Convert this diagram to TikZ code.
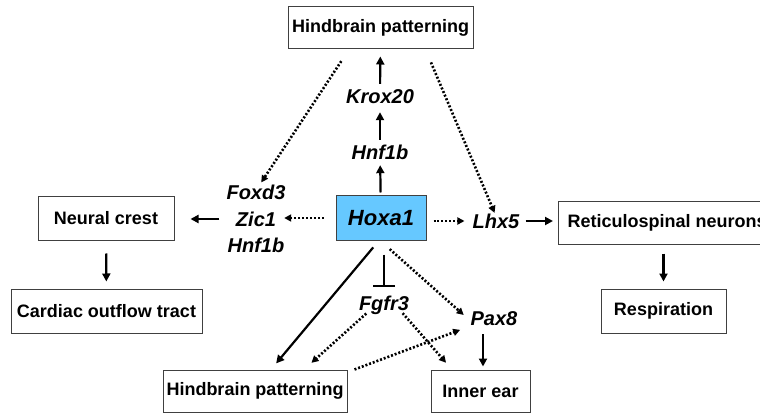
\documentclass[tikz,border=0pt]{standalone}
\usepackage{fontspec}
\setmainfont{Liberation Sans}
\usetikzlibrary{arrows.meta}
\definecolor{hoxblue}{RGB}{102,200,255}
\begin{document}
\begin{tikzpicture}[
       x=1pt,y=-1pt,
       box/.style={
         draw=black!75,
         line width=1pt,
         fill=white,
         font=\fontsize{18}{21}\selectfont\bfseries,
         inner sep=0pt
       },
       gene/.style={
         inner sep=0pt,
         text height=14pt,
         text depth=0pt,
         font=\fontsize{20}{24}\selectfont\bfseries\itshape
       },
       sol/.style={
         line width=2.2pt,
         -{Triangle[length=8pt,width=8pt]}
       },
       dot/.style={
         line width=2.6pt,
         dash pattern=on 2pt off 1.9pt,
         -{Triangle[length=7pt,width=7pt]}
       },
       blk/.style={
         line width=2.2pt,
         -{Bar[width=22pt,line width=2.2pt]}
       }
     ]

       \clip (0,0) rectangle (760,414);
       \fill[white] (0,0) rectangle (760,414);

       \node (hbtop) at (380.5,28) [box,minimum width=185,minimum height=42]{Hindbrain patterning};
       \node (krox) at (380,97) [gene]{Krox20};
       \node (hnfa) at (380,153) [gene]{Hnf1b};
       \node (hoxa) at (381,218) [box,fill=hoxblue,minimum width=90,minimum height=44,
                                  font=\fontsize{22}{26}\selectfont\bfseries\itshape]{Hoxa1};

       \node (foxd) at (256,193) [gene]{Foxd3};
       \node (zic) at (256,219) [gene]{Zic1};
       \node (hnfb) at (256,245) [gene]{Hnf1b};

       \node (crest) at (106,218.5) [box,minimum width=136,minimum height=43]{Neural crest};
       \node (cardiac) at (106.5,311) [box,minimum width=191,minimum height=44]{Cardiac outflow tract};

       \node (lhx) at (496,221) [gene]{Lhx5};
       \node (retic) at (558,223) [box,anchor=west,minimum height=42,inner xsep=9pt]{Reticulospinal neurons};
       \node (resp) at (663.5,311) [box,minimum width=125,minimum height=44]{Respiration};

       \node (fgf) at (384,303) [gene]{Fgfr3};
       \node (pax) at (494,318) [gene]{Pax8};
       \node (hbbot) at (255,391) [box,minimum width=184,minimum height=42]{Hindbrain patterning};
       \node (ear) at (480.5,391) [box,minimum width=99,minimum height=42]{Inner ear};

       % upward chain
       \draw[sol,shorten <=6pt,shorten >=7pt] (krox) -- (hbtop);
       \draw[sol,shorten <=6pt,shorten >=8pt] (hnfa) -- (krox);
       \draw[sol,shorten <=3pt,shorten >=5pt] (hoxa) -- (hnfa);

       % from the top box
       \draw[dot,shorten <=14pt,shorten >=4pt] ([xshift=-31.5pt]hbtop.south) -- ([xshift=3pt]foxd.north);
       \draw[dot,shorten <=14pt,shorten >=1pt] ([xshift=45pt]hbtop.south) -- ([xshift=-1pt]lhx.north);

       % left side
       \draw[dot,shorten <=12pt,shorten >=8pt] (hoxa.west) -- (zic.east |- hoxa.west);
       \draw[sol,shorten <=8pt,shorten >=16pt] (hnfb.west |- zic) -- (crest.east |- zic);
       \draw[sol,shorten <=13pt,shorten >=7pt] (crest) -- (cardiac);

       % right side
       \draw[dot,shorten <=7pt,shorten >=8pt] (hoxa.east |- lhx) -- (lhx);
       \draw[sol,shorten <=6pt,shorten >=5pt] (lhx) -- (retic.west |- lhx);
       \draw[sol,shorten <=9pt,shorten >=7pt] (resp.north |- retic.south) -- (resp.north);

       % below Hoxa1
       \draw[blk,shorten <=14pt,shorten >=9pt] (hoxa.south -| fgf) -- (fgf.north);
       \draw[sol,shorten <=9pt,shorten >=8pt] ([xshift=-2pt]hoxa.south) -- ([xshift=16pt]hbbot.north);
       \draw[dot,shorten <=13pt,shorten >=9pt] ([xshift=-1pt]hoxa.south) -- ([yshift=-3pt]pax.west);
       \draw[dot,shorten <=5pt,shorten >=10pt] ([xshift=-14pt]fgf.south) -- ([xshift=49pt]hbbot.north);
       \draw[dot,shorten <=4pt,shorten >=9pt] ([xshift=16pt]fgf.south) -- ([xshift=-28.5pt]ear.north);
       \draw[dot,shorten <=0pt,shorten >=11pt] ([xshift=7pt]hbbot.north east) -- ([yshift=-8pt]pax.west);
       \draw[sol,shorten <=9pt,shorten >=3pt] ([xshift=2.5pt]ear.north |- pax.south) -- ([xshift=2.5pt]ear.north);

\end{tikzpicture}
\end{document}
